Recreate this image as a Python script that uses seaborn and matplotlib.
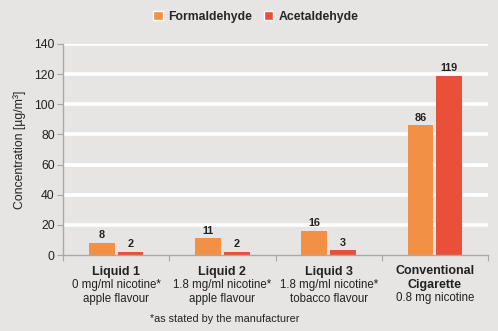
import matplotlib
matplotlib.use("Agg")
import matplotlib.pyplot as plt
import matplotlib.transforms as mtransforms
from matplotlib.patches import Patch
import seaborn as sns
import pandas as pd

categories = ["Liquid 1", "Liquid 2", "Liquid 3", "Conventional\nCigarette"]
subtitles = ["0 mg/ml nicotine*\napple flavour",
             "1.8 mg/ml nicotine*\napple flavour",
             "1.8 mg/ml nicotine*\ntobacco flavour",
             "0.8 mg nicotine"]
formaldehyde = [8, 11, 16, 86]
acetaldehyde = [2, 2, 3, 119]
series_names = ["Formaldehyde", "Acetaldehyde"]
yticks = [0, 20, 40, 60, 80, 100, 120, 140]
footnote = "*as stated by the manufacturer"

bg = "#E6E5E3"
colors = ["#F29045", "#E8503A"]

df = pd.DataFrame({
    "cat": categories * 2,
    "series": [series_names[0]] * 4 + [series_names[1]] * 4,
    "value": formaldehyde + acetaldehyde,
})

sns.set_theme(style="white")
plt.rcParams["font.family"] = ["Liberation Sans", "DejaVu Sans"]

fig = plt.figure(figsize=(4.98, 3.31), dpi=100, facecolor=bg)
ax = fig.add_axes([63 / 498, 1 - 255 / 331, (488 - 63) / 498, (255 - 44) / 331])
ax.set_facecolor(bg)

sns.barplot(data=df, x="cat", y="value", hue="series", palette=colors,
            width=0.54, gap=0.1, ax=ax, legend=False, saturation=1,
            order=categories, hue_order=series_names, linewidth=0)

ax.set_ylim(0, 140)
ax.set_xlim(-0.5, 3.5)
ax.set_yticks(yticks)
ax.set_yticklabels([str(v) for v in yticks], fontsize=8.8, color="#222222")
for y in yticks[1:]:
    ax.axhline(y, color="white", lw=2.6, zorder=0.5)
ax.set_axisbelow(True)

for cont in ax.containers:
    for bar in cont:
        h = bar.get_height()
        ax.text(bar.get_x() + bar.get_width() / 2, h + 1.8, f"{int(round(h))}",
                ha="center", va="bottom", fontsize=7.8, fontweight="bold",
                color="#222222")

for s in ["top", "right"]:
    ax.spines[s].set_visible(False)
for s in ["left", "bottom"]:
    ax.spines[s].set_color("#A8A8A8")
    ax.spines[s].set_linewidth(1.0)

ax.tick_params(axis="y", left=True, length=4, width=0.8, color="#A8A8A8", pad=2)
ax.set_xticks([-0.5, 0.5, 1.5, 2.5, 3.5])
ax.set_xticklabels([])
ax.tick_params(axis="x", bottom=True, length=4, width=0.8, color="#A8A8A8")
ax.set_xlabel("")
ax.set_ylabel("Concentration [µg/m³]", fontsize=8.8, color="#222222", labelpad=6)

trans = mtransforms.blended_transform_factory(ax.transData, fig.transFigure)
for i, (c, s) in enumerate(zip(categories, subtitles)):
    n = c.count("\n") + 1
    ax.text(i, 1 - 265.5 / 331, c, transform=trans, ha="center", va="top",
            fontsize=9, fontweight="bold", color="#222222", linespacing=1.2)
    ax.text(i, 1 - (265.5 + 13.5 * n) / 331, s, transform=trans, ha="center", va="top",
            fontsize=8.3, color="#222222", linespacing=1.25)

fig.text(225 / 498, 1 - 319 / 331, footnote, ha="center", va="center",
         fontsize=7.8, color="#222222")

handles = [Patch(facecolor=colors[0]), Patch(facecolor=colors[1])]
fig.legend(handles, series_names, loc="center", bbox_to_anchor=(256 / 498, 1 - 17 / 331),
           ncol=2, frameon=False, handlelength=0.8, handleheight=0.8,
           handletextpad=0.45, columnspacing=0.9,
           prop={"weight": "bold", "size": 8.8})

fig.savefig("out.png", dpi=100, facecolor=bg)
